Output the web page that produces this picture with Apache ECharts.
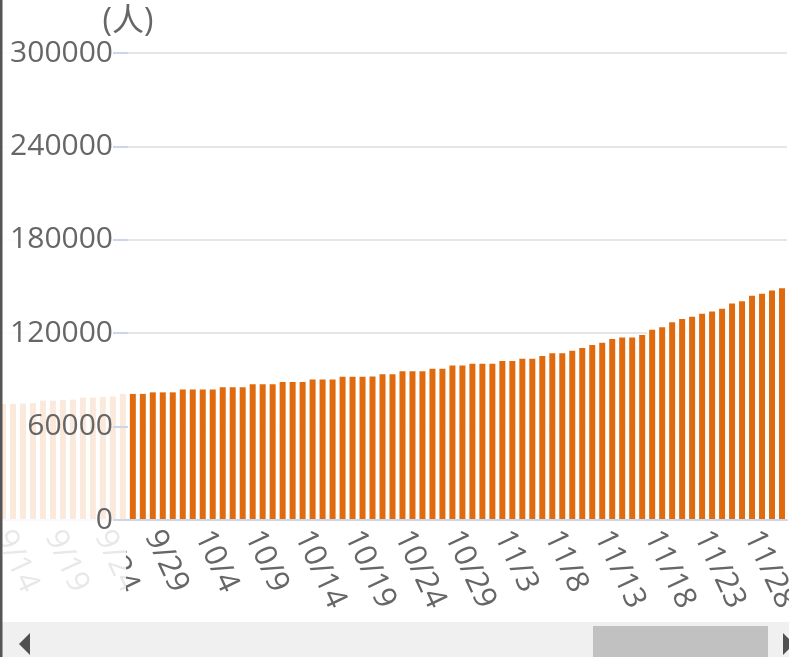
<!DOCTYPE html>
<html>
<head>
<meta charset="utf-8">
<script src="https://cdn.jsdelivr.net/npm/echarts@6/dist/echarts.min.js"></script>
<style>
html,body{margin:0;padding:0;background:#fff;}
#main{width:789px;height:657px;}
</style>
</head>
<body>
<div id="main"></div>
<script>
// 日期
var days = ['9/14','9/15','9/16','9/17','9/18','9/19','9/20','9/21','9/22','9/23','9/24','9/25','9/26','9/27','9/28','9/29','9/30',
	'10/1','10/2','10/3','10/4','10/5','10/6','10/7','10/8','10/9','10/10','10/11','10/12','10/13','10/14','10/15','10/16',
	'10/17','10/18','10/19','10/20','10/21','10/22','10/23','10/24','10/25','10/26','10/27','10/28','10/29','10/30','10/31',
	'11/1','11/2','11/3','11/4','11/5','11/6','11/7','11/8','11/9','11/10','11/11','11/12','11/13','11/14','11/15','11/16',
	'11/17','11/18','11/19','11/20','11/21','11/22','11/23','11/24','11/25','11/26','11/27','11/28','11/29','11/30','12/1'];
// 累计人数
var people = [74500,74500,74800,75100,76700,76700,77000,77300,78600,78600,79000,79300,81000,81000,81000,82000,82000,
	82000,83800,83800,83800,83900,85300,85300,85300,87200,87200,87200,88700,88700,88700,90200,90200,
	90200,92100,92100,92100,92200,93600,93600,95500,95500,95500,97100,97100,99200,99200,100300,
	100300,100300,102100,102100,103600,103600,105400,107100,107100,108700,110500,112400,113800,116300,117200,117200,
	118800,122200,123800,127100,129100,130500,132500,133900,135700,139100,140600,144000,145300,147400,148900];
var yTicks = [0, 60000, 120000, 180000, 240000, 300000];

var font = "'Open Sans', 'Noto Sans CJK SC', sans-serif";
var chart = echarts.init(document.getElementById('main'));
var option = {
	animation: false,
	grid: {left: -2, right: 2, top: 53, bottom: 137, containLabel: false, outerBoundsMode: 'none'},
	xAxis: [{
		type: 'category',
		data: days,
		z: 3,
		axisLine: {lineStyle: {color: '#ccd6eb', width: 2}},
		axisTick: {alignWithLabel: true, interval: 4, length: 8, lineStyle: {color: '#ccd6eb', width: 2}},
		axisLabel: {interval: 4, rotate: -65, margin: 12, color: '#666', fontSize: 31, fontFamily: font, hideOverlap: false}
	}, {
		type: 'category',
		data: days,
		show: false
	}],
	yAxis: [{
		type: 'value',
		position: 'left',
		min: yTicks[0],
		max: yTicks[yTicks.length - 1],
		interval: 60000,
		axisLabel: {show: false},
		axisTick: {show: false},
		axisLine: {show: false},
		splitLine: {lineStyle: {color: '#e6e6e6', width: 2}}
	}, {
		type: 'value',
		position: 'left',
		min: yTicks[0],
		max: yTicks[yTicks.length - 1],
		interval: 60000,
		offset: -130,
		z: 100,
		name: '(人)',
		nameGap: 0,
		nameTextStyle: {color: '#666', fontSize: 32, fontFamily: font, padding: [8, 0, 0, 0]},
		axisLine: {show: false},
		axisTick: {show: true, length: 15, lineStyle: {color: '#ccd6eb', width: 2}},
		axisLabel: {margin: 15, color: '#666', fontSize: 30, fontFamily: font, formatter: function(v) { return String(v); }},
		splitLine: {show: false}
	}],
	series: [{
		// 白色底条,遮住柱间网格线
		type: 'bar',
		xAxisIndex: 1,
		yAxisIndex: 0,
		data: people,
		barCategoryGap: '0%',
		z: 1,
		silent: true,
		itemStyle: {color: '#fff'}
	}, {
		type: 'bar',
		xAxisIndex: 0,
		yAxisIndex: 0,
		data: people,
		barWidth: 6,
		z: 2,
		itemStyle: {color: '#e06b0e'}
	}],
	graphic: [
		{type: 'rect', z: 50, silent: true, shape: {x: 0, y: 0, width: 126, height: 622}, style: {fill: 'rgba(255,255,255,0.85)'}},
		{type: 'rect', z: 150, silent: true, shape: {x: 0, y: 622, width: 789, height: 35}, style: {fill: '#f0f0f0'}},
		{type: 'rect', z: 151, silent: true, shape: {x: 593, y: 626, width: 175, height: 31}, style: {fill: '#c1c1c1'}},
		{type: 'polygon', z: 151, silent: true, shape: {points: [[19, 644], [30, 633], [30, 655]]}, style: {fill: '#505050'}},
		{type: 'polygon', z: 151, silent: true, shape: {points: [[783, 633], [794, 644], [783, 655]]}, style: {fill: '#505050'}},
		{type: 'rect', z: 200, silent: true, shape: {x: 0, y: 0, width: 2.5, height: 657}, style: {fill: '#555'}}
	]
};
chart.setOption(option);
window.onresize = function() {
	chart.resize();
};
</script>
</body>
</html>
